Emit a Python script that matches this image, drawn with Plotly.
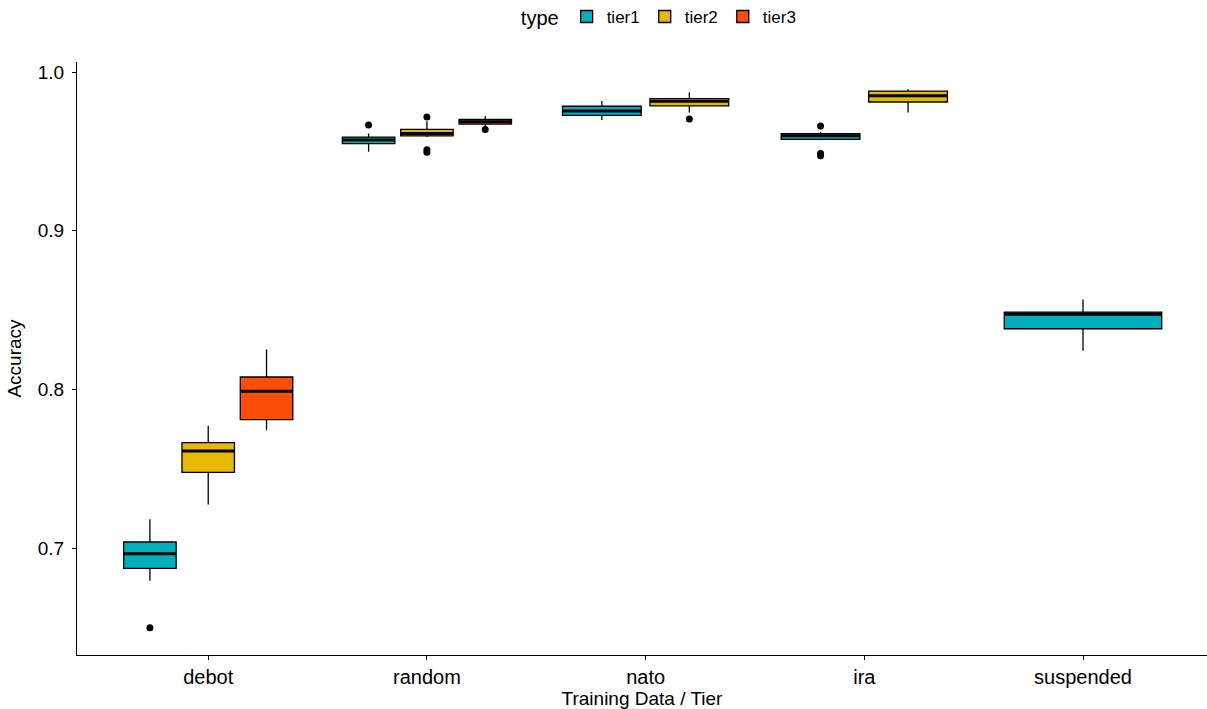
import plotly.graph_objects as go

categories = ["debot", "random", "nato", "ira", "suspended"]
tiers = ["tier1", "tier2", "tier3"]
colors = {"tier1": "#00AFBB", "tier2": "#E7B800", "tier3": "#FC4E07"}

# (category, tier): [lower whisker, Q1, median, Q3, upper whisker]
stats = {
    ("debot", "tier1"): [0.6794, 0.6872, 0.6964, 0.7038, 0.7181],
    ("debot", "tier2"): [0.7275, 0.7477, 0.7611, 0.7664, 0.7771],
    ("debot", "tier3"): [0.7742, 0.7809, 0.7988, 0.8078, 0.8252],
    ("random", "tier1"): [0.9497, 0.9548, 0.9571, 0.9590, 0.9613],
    ("random", "tier2"): [0.9590, 0.9597, 0.9613, 0.9638, 0.9690],
    ("random", "tier3"): [0.9655, 0.9672, 0.9687, 0.9702, 0.9723],
    ("nato", "tier1"): [0.9697, 0.9727, 0.9754, 0.9784, 0.9817],
    ("nato", "tier2"): [0.9744, 0.9786, 0.9815, 0.9832, 0.9872],
    ("ira", "tier1"): [0.9570, 0.9575, 0.9598, 0.9612, 0.9624],
    ("ira", "tier2"): [0.9744, 0.9811, 0.9851, 0.9880, 0.9891],
    ("suspended", "tier1"): [0.8243, 0.8382, 0.8473, 0.8487, 0.8567],
}

outliers = {
    ("debot", "tier1"): [0.6498],
    ("random", "tier1"): [0.9666],
    ("random", "tier2"): [0.9716, 0.9510, 0.9494],
    ("random", "tier3"): [0.9638],
    ("nato", "tier2"): [0.9704],
    ("ira", "tier1"): [0.9660, 0.9487, 0.9472],
}

FONT = "Liberation Sans, Arial, sans-serif"
fig = go.Figure()

shown = set()
medians = []
for ci, cat in enumerate(categories):
    present = [t for t in tiers if (cat, t) in stats]
    n = len(present)
    slot = 0.8 / n
    bw = slot * 0.9
    for i, t in enumerate(present):
        pos = ci + 1 - 0.4 + slot * (i + 0.5)
        lo, q1, med, q3, hi = stats[(cat, t)]
        fig.add_trace(go.Box(
            x=[pos], q1=[q1], median=[med], q3=[q3],
            lowerfence=[lo], upperfence=[hi],
            width=bw, fillcolor=colors[t], whiskerwidth=0,
            line=dict(color="black", width=1.3),
            name=t, legendgroup=t, showlegend=t not in shown,
            boxpoints=False, hoverinfo="skip",
        ))
        shown.add(t)
        medians.append((pos, bw, med))
        if (cat, t) in outliers:
            ys = outliers[(cat, t)]
            fig.add_trace(go.Scatter(
                x=[pos] * len(ys), y=ys, mode="markers",
                marker=dict(color="black", size=7),
                showlegend=False, hoverinfo="skip",
            ))

for pos, bw, med in medians:
    fig.add_trace(go.Scatter(
        x=[pos - bw / 2, pos + bw / 2], y=[med, med], mode="lines",
        line=dict(color="black", width=3), showlegend=False, hoverinfo="skip",
    ))

fig.update_layout(
    width=1207, height=709,
    paper_bgcolor="white", plot_bgcolor="white",
    margin=dict(l=77, r=0, t=62, b=54, autoexpand=False),
    boxmode="overlay",
    font=dict(family=FONT, size=19, color="black"),
    legend=dict(
        orientation="h", x=0.391, xanchor="left", y=1.076, yanchor="middle",
        title=dict(text="type", side="left", font=dict(size=20)),
        font=dict(size=17), traceorder="normal", itemwidth=30,
    ),
    xaxis=dict(
        range=[0.4, 5.567], tickmode="array", tickvals=[1, 2, 3, 4, 5],
        ticktext=categories, showgrid=False, zeroline=False, automargin=False,
        showline=True, linecolor="black", linewidth=1.3,
        ticks="outside", ticklen=4, tickcolor="black", tickwidth=1.3,
        tickfont=dict(size=20, color="black"),
        title=dict(text="Training Data / Tier", font=dict(size=19), standoff=2),
    ),
    yaxis=dict(
        range=[0.6326, 1.0063], tickvals=[0.7, 0.8, 0.9, 1.0],
        tickformat=".1f", showgrid=False, zeroline=False, automargin=False,
        showline=True, linecolor="black", linewidth=1.3,
        ticks="outside", ticklen=4, tickcolor="black", tickwidth=1.3,
        ticklabelstandoff=4,
        tickfont=dict(size=19, color="black"),
        title=dict(text="Accuracy", font=dict(size=19), standoff=10),
    ),
)

fig.write_html(
    "out.html",
    config={"displayModeBar": False},
    post_script="document.body.style.margin='0';document.body.style.overflow='hidden';",
)
